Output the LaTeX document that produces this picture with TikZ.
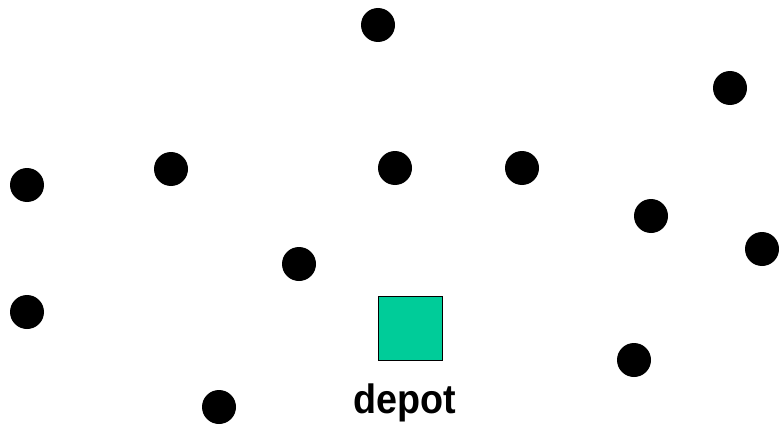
\documentclass[tikz,border=0pt]{standalone}
\usepackage{fontspec}
\setmainfont{Liberation Sans}
\usetikzlibrary{positioning}
\usepackage{xcolor}
\definecolor{depotgreen}{RGB}{0,204,153}
\tikzset{
  customer/.style={
    circle,
    fill=black,
    draw=none,
    minimum size=34pt,
    inner sep=0pt
  },
  depotbox/.style={
    draw=black,
    fill=depotgreen,
    line width=1.2pt,
    minimum size=64pt,
    inner sep=0pt
  },
  depotlabel/.style={
    font=\fontsize{41}{45}\selectfont\bfseries,
    inner sep=0pt
  },
}
\begin{document}
\begin{tikzpicture}[x=1pt, y=-1pt]

% Frame
\useasboundingbox (0,0) rectangle (779,428);

% Customers
\node[customer] (c1) at (378,25) {};
\node[customer] (c2) at (730,88) {};
\node[customer] (c3) at (27,185) {};
\node[customer] (c4) at (171,169) {};
\node[customer] (c5) at (395,168) {};
\node[customer] (c6) at (522,168) {};
\node[customer] (c7) at (651,216) {};
\node[customer] (c8) at (762,249) {};
\node[customer] (c9) at (299,264) {};
\node[customer] (c10) at (27,312) {};
\node[customer] (c11) at (634,360) {};
\node[customer] (c12) at (219,407) {};

% Depot
\node[depotbox] (depot) at (410.5,328.5) {};
\node[depotlabel, anchor=base] (depottext) at (404.5,413) {\scalebox{0.92}[1]{depot}};

\end{tikzpicture}
\end{document}
